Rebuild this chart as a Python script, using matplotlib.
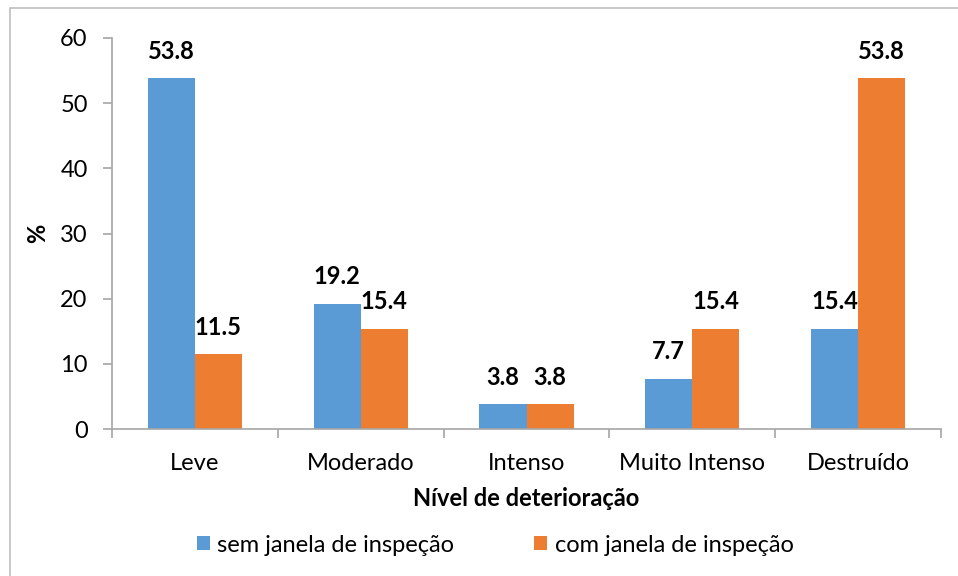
import matplotlib
matplotlib.use('Agg')
import matplotlib.pyplot as plt
import numpy as np
from matplotlib.patches import Rectangle

plt.rcParams['font.family'] = ['Lato', 'DejaVu Sans']

categories = ['Leve', 'Moderado', 'Intenso', 'Muito Intenso', 'Destruído']
sem_janela = [53.8, 19.2, 3.8, 7.7, 15.4]
com_janela = [11.5, 15.4, 3.8, 15.4, 53.8]
series_names = ['sem janela de inspeção', 'com janela de inspeção']
y_ticks = [0, 10, 20, 30, 40, 50, 60]

BLUE = '#5b9bd5'
ORANGE = '#ed7d31'
GRID = '#a6a6a6'
FS = 17

W, H = 958, 576
fig = plt.figure(figsize=(W / 100, H / 100), dpi=100)

# chart frame (cut by the image on the right and bottom)
fig.patches.append(Rectangle((10 / W, -0.05), 1.1, 1 - 8 / H + 0.05,
                             transform=fig.transFigure, fill=False,
                             edgecolor='#bfbfbf', linewidth=1.2))

ax = fig.add_axes([112 / W, 1 - 429 / H, (941 - 112) / W, (429 - 38) / H])

x = np.arange(len(categories))
bw = 0.284
b1 = ax.bar(x - bw / 2, sem_janela, bw, color=BLUE, label=series_names[0])
b2 = ax.bar(x + bw / 2, com_janela, bw, color=ORANGE, label=series_names[1])

for bars, vals in ((b1, sem_janela), (b2, com_janela)):
    for rect, v in zip(bars, vals):
        ax.text(rect.get_x() + rect.get_width() / 2, v + 3.0, f'{v:.1f}',
                ha='center', va='baseline', fontsize=FS, fontweight='bold')

ax.set_xlim(-0.5, len(categories) - 0.5)
ax.set_ylim(0, 60)
ax.set_yticks(y_ticks)
ax.set_xticks(x)
ax.set_xticklabels(categories)
ax.set_xticks(np.arange(len(categories) + 1) - 0.5, minor=True)

for s in ('top', 'right'):
    ax.spines[s].set_visible(False)
for s in ('left', 'bottom'):
    ax.spines[s].set_color(GRID)
    ax.spines[s].set_linewidth(1.2)

ax.tick_params(axis='y', labelsize=FS, length=6.5, width=1.2, color=GRID, pad=11)
ax.tick_params(axis='x', which='major', length=0, labelsize=FS, pad=17)
ax.tick_params(axis='x', which='minor', length=6.5, width=1.2, color=GRID)

ax.set_xlabel('Nível de deterioração', fontsize=FS, fontweight='bold', labelpad=10)
ax.set_ylabel('%', fontsize=FS, fontweight='bold', labelpad=8)

fig.legend(handles=[b1, b2], labels=series_names, loc='center',
           bbox_to_anchor=(0.517, 1 - 545 / H), ncol=2, frameon=False,
           fontsize=FS, handlelength=0.55, handleheight=0.55,
           handletextpad=0.3, columnspacing=3.4)

fig.savefig('out.png', dpi=100)
